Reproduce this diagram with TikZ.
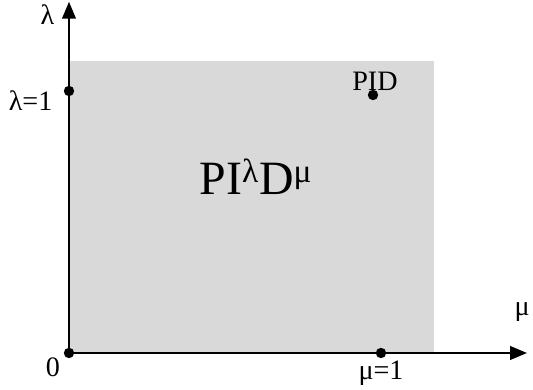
\documentclass[tikz,border=0pt]{standalone}
\usepackage{fontspec}
\setmainfont{Liberation Serif}
\usetikzlibrary{arrows.meta}
\definecolor{regiongray}{RGB}{217,217,217}
\tikzset{
	axis/.style={line width=1.4pt, -{Triangle[length=0.42cm,width=0.34cm]}},
	dot/.style={circle, fill=black, inner sep=0pt, minimum size=0.26cm},
	lbl/.style={font=\fontsize{20}{22}\selectfont, inner sep=0pt, anchor=base},
}
\begin{document}
\begin{tikzpicture}
	\useasboundingbox (-1.725,-0.925) rectangle (11.6,8.825);
	
	% Khung toạ độ
	\foreach \name/\x/\y in {
		O/0/0, X/11.45/0, Y/0/8.78, R/9.125/7.3
	}{
		\coordinate (\name) at (\x,\y);
	}
	% Miền xám
	\fill[regiongray] (O) rectangle (R);
	
	% Hai trục
	\draw[axis] (O) -- (X);
	\draw[axis] (O) -- (Y);
	
	% Các điểm
	\foreach \name/\x/\y in {
		o/0/0, l1/0/6.55, m1/7.8/0, pid/7.6/6.45
	}{
		\node[dot] (\name) at (\x,\y) {};
	}
	
	% Nhãn
	\node[lbl] (lam) at (-0.54,8.2) {λ};
	\node[lbl] (mu) at (11.33,0.93) {μ};
	\node[lbl] (zero) at (-0.4,-0.6) {0};
	\node[lbl] (laml) at (-0.96,6.05) {λ=1};
	\node[lbl] (mul) at (7.8,-0.675) {μ=1};
	\node[lbl] (pidl) at (7.65,6.55) {PID};
	\node[lbl, font=\fontsize{34}{36}\selectfont] (frac) at (4.675,3.95)
		{PI\textsuperscript{λ}D\textsuperscript{μ}};
\end{tikzpicture}
\end{document}
